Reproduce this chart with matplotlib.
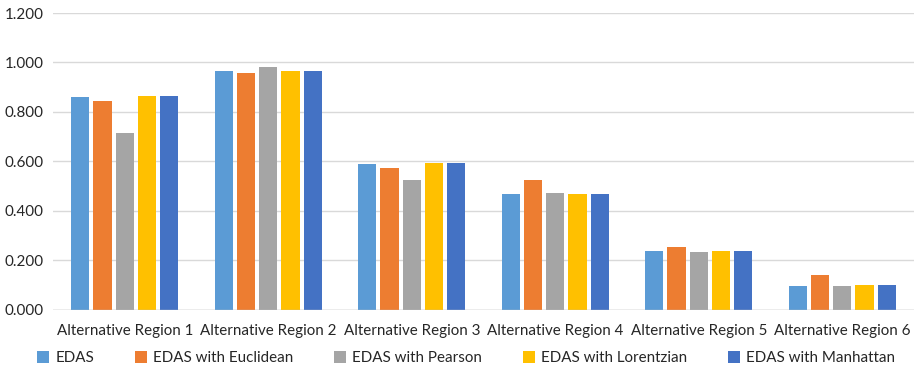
import numpy as np
import matplotlib.pyplot as plt
from matplotlib.patches import Patch

regions = ['Alternative Region 1', 'Alternative Region 2', 'Alternative Region 3',
           'Alternative Region 4', 'Alternative Region 5', 'Alternative Region 6']
methods = ['EDAS', 'EDAS with Euclidean', 'EDAS with Pearson',
           'EDAS with Lorentzian', 'EDAS with Manhattan']

edas = [0.862, 0.964, 0.590, 0.469, 0.238, 0.098]
edas_euclidean = [0.845, 0.958, 0.575, 0.523, 0.253, 0.141]
edas_pearson = [0.715, 0.983, 0.524, 0.473, 0.232, 0.098]
edas_lorentzian = [0.866, 0.964, 0.593, 0.469, 0.238, 0.102]
edas_manhattan = [0.866, 0.964, 0.593, 0.469, 0.238, 0.102]

series = [edas, edas_euclidean, edas_pearson, edas_lorentzian, edas_manhattan]
colors = ['#5B9BD5', '#ED7D31', '#A5A5A5', '#FFC000', '#4472C4']

plt.rcParams['font.family'] = ['Lato', 'DejaVu Sans']

fig = plt.figure(figsize=(9.14, 3.72), dpi=100)
ax = fig.add_axes([0.058, 0.167, 0.942, 0.798])

x = np.arange(len(regions))
slot = 0.155
for i, (vals, c) in enumerate(zip(series, colors)):
    ax.bar(x + (i - 2) * slot, vals, width=0.128, color=c, zorder=3)

ax.set_xlim(-0.5, len(regions) - 0.5)
ax.set_ylim(0, 1.2)
ax.set_yticks(np.arange(0, 1.21, 0.2))
ax.set_yticklabels([f'{v:.3f}' for v in np.arange(0, 1.21, 0.2)])
ax.set_xticks(x)
ax.set_xticklabels(regions)
ax.tick_params(axis='both', length=0, labelsize=10.9, colors='#262626')
ax.tick_params(axis='y', pad=7)
ax.tick_params(axis='x', pad=10)

ax.grid(axis='y', color='#D9D9D9', linewidth=1, zorder=0)
for s in ax.spines.values():
    s.set_visible(False)
ax.axhline(0, color='#BFBFBF', linewidth=1, zorder=4)

handles = [Patch(facecolor=c, label=m) for c, m in zip(colors, methods)]
fig.legend(handles=handles, loc='center', bbox_to_anchor=(0.51, 0.037), ncol=5,
           frameon=False, fontsize=10.9, handlelength=0.8, handleheight=0.8,
           handletextpad=0.4, columnspacing=2.7, labelcolor='#262626')

fig.savefig('out.png', dpi=100)
